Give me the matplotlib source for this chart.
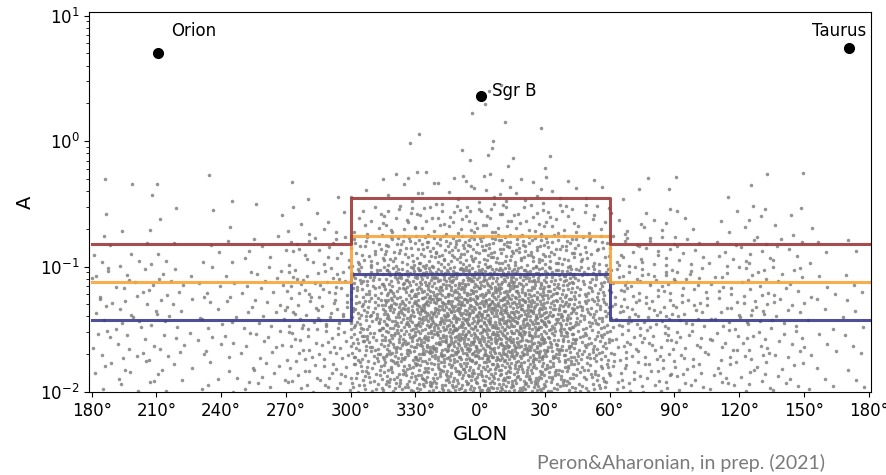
import numpy as np
import matplotlib.pyplot as plt

# longitude bins (deg, wrapped to -180..180) and log10(A) bins, top row first
lon_edges = list(range(-180, 181, 15))
logA_edges = [0.45, 0.0, -0.25, -0.5, -0.75, -1.0, -1.25, -1.5, -1.75, -2.0]

# number of sources in each (logA row, lon column) cell
counts = [
    [0, 0, 0, 0, 0, 0, 0, 0, 0, 0, 1, 1, 5, 1, 0, 0, 0, 0, 0, 0, 0, 0, 0, 0],
    [0, 0, 0, 0, 0, 0, 0, 0, 0, 1, 1, 2, 3, 2, 1, 0, 0, 0, 0, 0, 0, 0, 0, 0],
    [1, 2, 1, 1, 1, 0, 2, 1, 3, 5, 6, 8, 8, 7, 5, 3, 2, 2, 1, 1, 2, 1, 0, 0],
    [2, 1, 2, 1, 1, 2, 5, 4, 10, 14, 16, 18, 18, 16, 14, 10, 5, 6, 3, 3, 5, 3, 1, 0],
    [5, 4, 3, 3, 4, 5, 10, 10, 24, 32, 38, 42, 42, 38, 32, 24, 13, 12, 9, 7, 9, 7, 3, 2],
    [7, 8, 7, 6, 6, 8, 15, 17, 40, 58, 72, 80, 80, 74, 58, 40, 20, 17, 12, 10, 12, 10, 4, 3],
    [8, 8, 7, 6, 7, 9, 15, 17, 46, 70, 88, 96, 98, 92, 70, 46, 22, 19, 14, 12, 13, 10, 4, 4],
    [7, 7, 6, 6, 6, 8, 14, 16, 44, 64, 80, 88, 92, 86, 64, 44, 20, 17, 13, 12, 12, 9, 4, 3],
    [6, 6, 5, 5, 6, 8, 12, 14, 34, 48, 60, 66, 70, 66, 50, 34, 17, 15, 12, 10, 10, 8, 4, 3],
]

# threshold levels: outside / inside |l| < 60 deg
step_lon = [-180, -60, -60, 60, 60, 180]
levels_out = [0.0375, 0.075, 0.15]
levels_in = [0.0875, 0.175, 0.35]
level_colors = ["#3b3b8f", "#f9a43a", "#9e3a3a"]

# named sources
src_names = ["Orion", "Sgr B", "Taurus"]
src_lon = [-149.5, 0.5, 171.0]
src_A = [5.0, 2.3, 5.5]


def halton(i, base):
    out = np.zeros(len(i))
    f = 1.0
    i = i.copy()
    while np.any(i > 0):
        f /= base
        out += f * (i % base)
        i //= base
    return out


def spread(n, x0, x1, y0, y1, k):
    # fill a cell evenly with a Halton sequence, each cell starting elsewhere
    i = np.arange(1, n + 1) + 37 * k
    u = halton(i, 2)
    v = halton(i, 3)
    return x0 + u * (x1 - x0), 10 ** (y1 + v * (y0 - y1))


xs, ys = [], []
k = 0
for r, row in enumerate(counts):
    for c, n in enumerate(row):
        k += 1
        if n == 0:
            continue
        x, y = spread(n, lon_edges[c], lon_edges[c + 1],
                      logA_edges[r], logA_edges[r + 1], k)
        xs.append(x)
        ys.append(y)
xs = np.concatenate(xs)
ys = np.concatenate(ys)

fig = plt.figure(figsize=(8.87, 4.75), dpi=100)
ax = fig.add_axes([0.1007, 0.1747, 0.8813, 0.7990])

ax.scatter(xs, ys, s=6.5, color="#7a7a7a", alpha=0.8, linewidths=0, zorder=1)

for lo, hi, col in zip(levels_out, levels_in, level_colors):
    ax.plot(step_lon, [lo, lo, hi, hi, lo, lo], color=col, lw=2.2,
            alpha=0.9, zorder=2)

ax.plot(src_lon, src_A, "o", color="black", ms=7, zorder=3)
ax.text(-143, 7.6, "Orion", fontsize=12, ha="left", va="center")
ax.text(5.5, 2.5, "Sgr B", fontsize=12, ha="left", va="center")
ax.text(179, 7.6, "Taurus", fontsize=12, ha="right", va="center")

ax.set_yscale("log")
ax.set_ylim(1e-2, 10.6)
ax.set_xlim(-181.1, 181.1)

ticks = list(range(-180, 181, 30))
ax.set_xticks(ticks)
ax.set_xticklabels(["{}°".format(t % 360 if t != 180 else 180) for t in ticks])
ax.tick_params(labelsize=12)
ax.set_xlabel("GLON", fontsize=14)
ax.set_ylabel("A", fontsize=14)

fig.text(537 / 887, 1 - 463 / 475, "Peron&Aharonian, in prep. (2021)",
         fontsize=14, color="#7a7a7a", family="Lato", ha="left", va="center")

fig.savefig("out.png", dpi=100)
